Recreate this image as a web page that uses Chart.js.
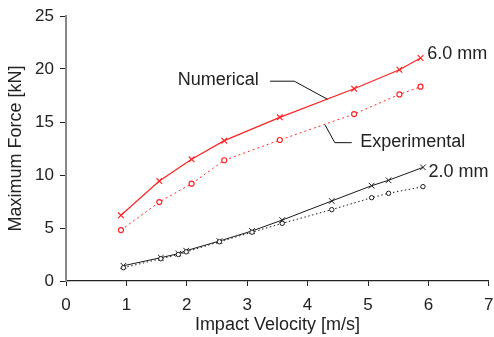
<!DOCTYPE html>
<html>
<head>
<meta charset="utf-8">
<script src="https://cdn.jsdelivr.net/npm/chart.js@4"></script>
<style>
html,body{margin:0;padding:0;background:#fff;}
#wrap{width:494px;height:337px;position:relative;}
</style>
</head>
<body>
<div id="wrap"><canvas id="c"></canvas></div>
<script>
// Data
const num6V = [0.91, 1.545, 2.08, 2.62, 3.54, 4.77, 5.52, 5.87];
const num6F = [6.2, 9.43, 11.48, 13.24, 15.44, 18.14, 19.93, 21.04];
const exp6V = [0.91, 1.545, 2.08, 2.62, 3.54, 4.77, 5.52, 5.87];
const exp6F = [4.8, 7.45, 9.18, 11.39, 13.3, 15.75, 17.6, 18.33];
const num2V = [0.95, 1.57, 1.86, 1.99, 2.54, 3.08, 3.58, 4.40, 5.06, 5.34, 5.91];
const num2F = [1.44, 2.2, 2.58, 2.86, 3.77, 4.72, 5.75, 7.55, 8.99, 9.5, 10.72];
const exp2V = [0.95, 1.57, 1.86, 1.99, 2.54, 3.08, 3.58, 4.40, 5.06, 5.34, 5.91];
const exp2F = [1.25, 2.1, 2.5, 2.75, 3.7, 4.6, 5.44, 6.73, 7.86, 8.27, 8.9];
const xTicks = [0, 1, 2, 3, 4, 5, 6, 7];
const yTicks = [0, 5, 10, 15, 20, 25];
const xTitle = 'Impact Velocity [m/s]';
const yTitle = 'Maximum Force [kN]';
// Annotation texts and anchors (data units)
const notes = [
  {text: 'Numerical', v: 1.85, f: 19.0, align: 'left'},
  {text: 'Experimental', v: 4.87, f: 13.1, align: 'left'},
  {text: '6.0 mm', v: 5.98, f: 21.4, align: 'left'},
  {text: '2.0 mm', v: 6.0, f: 10.3, align: 'left'}
];
const leaders = [
  [[3.38, 18.85], [3.78, 18.85], [4.33, 17.14]],
  [[4.29, 14.72], [4.45, 13.05], [4.73, 13.05]]
];

const zip = (a, b) => a.map((v, i) => ({x: v, y: b[i]}));
const RED = '#ff2424';
const BLK = '#1a1a1a';
const FONT = "'Liberation Sans', Arial, sans-serif";

const annot = {
  id: 'annot',
  afterDatasetsDraw(chart) {
    const ctx = chart.ctx, xs = chart.scales.x, ys = chart.scales.y;
    ctx.save();
    ctx.strokeStyle = '#111';
    ctx.lineWidth = 1;
    leaders.forEach(pts => {
      ctx.beginPath();
      pts.forEach((p, i) => {
        const px = xs.getPixelForValue(p[0]), py = ys.getPixelForValue(p[1]);
        if (i === 0) ctx.moveTo(px, py); else ctx.lineTo(px, py);
      });
      ctx.stroke();
    });
    ctx.fillStyle = '#222';
    ctx.font = '18px ' + FONT;
    ctx.textBaseline = 'middle';
    notes.forEach(n => {
      ctx.textAlign = n.align;
      ctx.fillText(n.text, xs.getPixelForValue(n.v), ys.getPixelForValue(n.f));
    });
    ctx.restore();
  }
};

new Chart(document.getElementById('c'), {
  type: 'scatter',
  data: {
    datasets: [
      {data: zip(exp6V, exp6F), showLine: true, borderColor: RED, borderWidth: 1, borderDash: [2, 3],
       pointStyle: 'circle', pointRadius: 2.5, pointBorderColor: RED, pointBackgroundColor: '#fff', pointBorderWidth: 1.2},
      {data: zip(num6V, num6F), showLine: true, borderColor: RED, borderWidth: 1.2,
       pointStyle: 'crossRot', pointRadius: 4, pointBorderColor: RED, pointBorderWidth: 1.2},
      {data: zip(exp2V, exp2F), showLine: true, borderColor: BLK, borderWidth: 1, borderDash: [1.5, 2.5],
       pointStyle: 'circle', pointRadius: 2.2, pointBorderColor: BLK, pointBackgroundColor: '#fff', pointBorderWidth: 1},
      {data: zip(num2V, num2F), showLine: true, borderColor: BLK, borderWidth: 1,
       pointStyle: 'crossRot', pointRadius: 4, pointBorderColor: BLK, pointBorderWidth: 1}
    ]
  },
  options: {
    responsive: true,
    maintainAspectRatio: false,
    animation: false,
    layout: {padding: {top: 16, right: 5, left: 0, bottom: 0}},
    plugins: {legend: {display: false}, tooltip: {enabled: false}},
    scales: {
      x: {
        type: 'linear', min: xTicks[0], max: xTicks[xTicks.length - 1],
        afterBuildTicks: s => { s.ticks = xTicks.map(v => ({value: v})); },
        afterFit: s => { s.height = 56; s.paddingLeft = 0; s.paddingRight = 0; },
        grid: {drawOnChartArea: false, drawTicks: true, tickLength: 5, color: '#222'},
        border: {color: '#222', width: 1.2},
        ticks: {color: '#222', font: {family: FONT, size: 17}, padding: 9},
        title: {display: true, text: xTitle, color: '#222', font: {family: FONT, size: 18}, padding: {top: 0, bottom: 1}}
      },
      y: {
        type: 'linear', min: yTicks[0], max: yTicks[yTicks.length - 1],
        afterBuildTicks: s => { s.ticks = yTicks.map(v => ({value: v})); },
        afterFit: s => { s.width = 66; s.paddingTop = 0; s.paddingBottom = 0; },
        grid: {drawOnChartArea: false, drawTicks: true, tickLength: 6, color: '#222'},
        border: {color: '#888', width: 2},
        ticks: {color: '#222', font: {family: FONT, size: 17}, padding: 6},
        title: {display: true, text: yTitle, color: '#222', font: {family: FONT, size: 18}, padding: {top: 5, bottom: 0}}
      }
    }
  },
  plugins: [annot]
});
</script>
</body>
</html>
